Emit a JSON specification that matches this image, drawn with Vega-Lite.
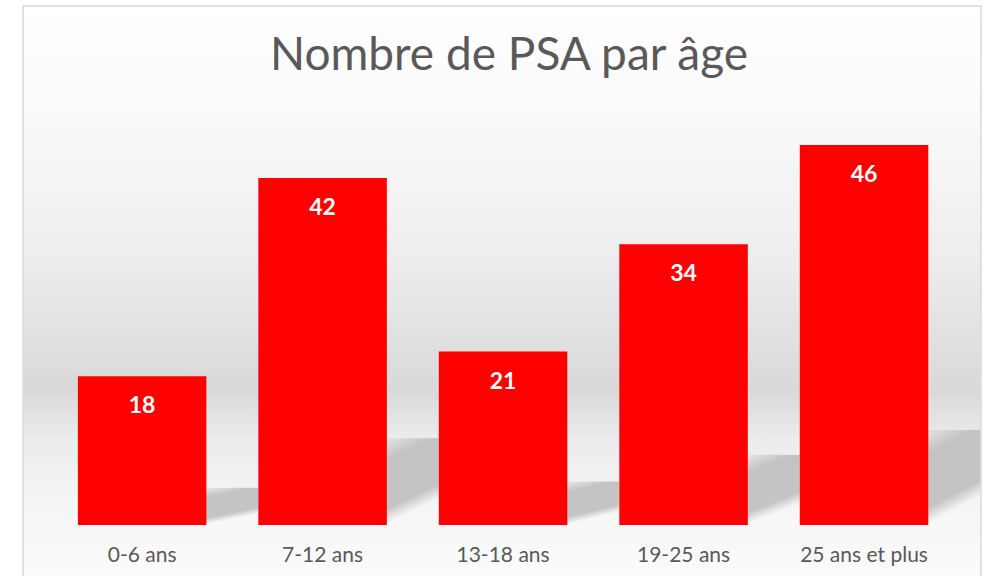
{
  "$schema": "https://vega.github.io/schema/vega-lite/v6.json",
  "width": 958,
  "height": 572,
  "autosize": {"type": "none"},
  "padding": {"left": 23, "top": 6, "right": 8, "bottom": 0},
  "background": "#ffffff",
  "title": {
    "text": "Nombre de PSA par âge",
    "font": "Lato",
    "fontSize": 46,
    "fontWeight": "normal",
    "color": "#595959",
    "anchor": "middle",
    "offset": -74,
    "dx": 7
  },
  "data": {
    "values": [
      {"age": "0-6 ans", "n": 18},
      {"age": "7-12 ans", "n": 42},
      {"age": "13-18 ans", "n": 21},
      {"age": "19-25 ans", "n": 34},
      {"age": "25 ans et plus", "n": 46}
    ]
  },
  "config": {
    "view": {
      "stroke": "#d9d9d9",
      "strokeWidth": 1.5,
      "fill": {
        "gradient": "linear",
        "x1": 0, "y1": 0, "x2": 0, "y2": 1,
        "stops": [
          {"offset": 0, "color": "#ffffff"},
          {"offset": 0.164, "color": "#fbfbfb"},
          {"offset": 0.427, "color": "#eeeeee"},
          {"offset": 0.566, "color": "#e2e2e2"},
          {"offset": 0.671, "color": "#d9d9d9"},
          {"offset": 0.759, "color": "#ececec"},
          {"offset": 0.881, "color": "#f6f6f6"},
          {"offset": 1, "color": "#fbfbfb"}
        ]
      }
    }
  },
  "encoding": {
    "x": {
      "field": "age",
      "type": "nominal",
      "sort": null,
      "scale": {"paddingInner": 0.288, "paddingOuter": 0.298, "align": 0.51},
      "axis": {
        "title": null,
        "domain": false,
        "ticks": false,
        "labelAngle": 0,
        "labelFont": "Lato",
        "labelFontSize": 21,
        "labelColor": "#595959",
        "labelPadding": 6,
        "offset": -40
      }
    }
  },
  "layer": [
    {
      "mark": {
        "type": "bar",
        "xOffset": 52,
        "color": {
          "gradient": "linear",
          "x1": 0.5, "y1": 0, "x2": 1, "y2": 0.7,
          "stops": [
            {"offset": 0, "color": "rgba(192,192,192,0)"},
            {"offset": 0.3, "color": "rgba(192,192,192,0.92)"},
            {"offset": 0.84, "color": "rgba(192,192,192,0.92)"},
            {"offset": 1, "color": "rgba(200,200,200,0)"}
          ]
        }
      },
      "encoding": {
        "y": {
          "field": "n",
          "type": "quantitative",
          "scale": {"domain": [-25.7, 251.3], "nice": false},
          "axis": null
        }
      }
    },
    {
      "mark": {"type": "bar", "color": "#ff0000"},
      "encoding": {
        "y": {
          "field": "n",
          "type": "quantitative",
          "scale": {"domain": [-6.42, 62.83], "nice": false},
          "axis": null
        }
      }
    },
    {
      "mark": {
        "type": "text",
        "dy": 30,
        "color": "#ffffff",
        "font": "Lato",
        "fontWeight": "bold",
        "fontSize": 23,
        "baseline": "middle"
      },
      "encoding": {
        "y": {
          "field": "n",
          "type": "quantitative",
          "scale": {"domain": [-6.42, 62.83], "nice": false},
          "axis": null
        },
        "text": {"field": "n", "type": "quantitative"}
      }
    }
  ],
  "resolve": {"scale": {"y": "independent"}}
}
